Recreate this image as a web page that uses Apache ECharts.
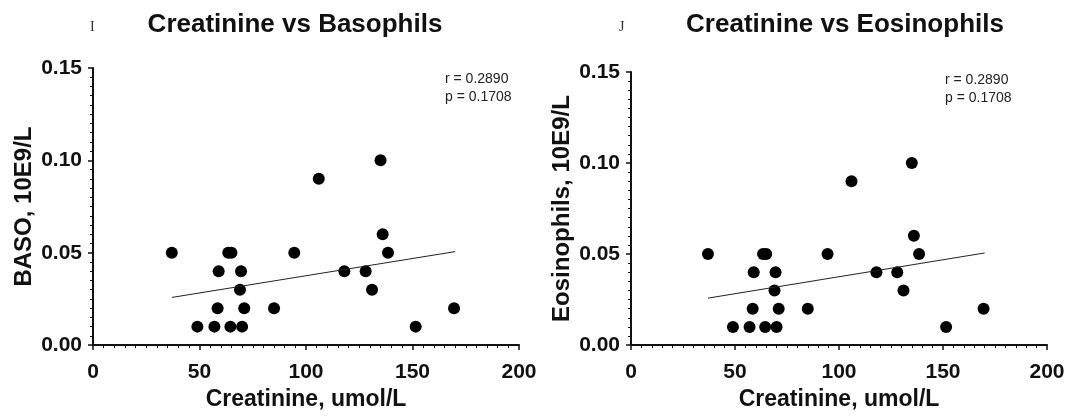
<!DOCTYPE html>
<html>
<head>
<meta charset="utf-8">
<script src="https://cdn.jsdelivr.net/npm/echarts@6/dist/echarts.min.js"></script>
<style>
  html, body { margin: 0; padding: 0; background: #fff; }
  #chart { width: 1072px; height: 416px; }
</style>
</head>
<body>
<div id="chart"></div>
<script>
// creatinine (umol/L) for each subject
const creatinine = [37, 49, 57, 64.5, 70, 58.5, 71, 59, 69.5, 69, 63.5, 65, 85, 94.5, 106, 118, 128, 131, 135, 136, 138.5, 151.5, 169.5];
// basophils and eosinophils (10E9/L) - same values in both panels
const baso = [0.05, 0.01, 0.01, 0.01, 0.01, 0.02, 0.02, 0.04, 0.04, 0.03, 0.05, 0.05, 0.02, 0.05, 0.09, 0.04, 0.04, 0.03, 0.10, 0.06, 0.05, 0.01, 0.02];
const eos = [0.05, 0.01, 0.01, 0.01, 0.01, 0.02, 0.02, 0.04, 0.04, 0.03, 0.05, 0.05, 0.02, 0.05, 0.09, 0.04, 0.04, 0.03, 0.10, 0.06, 0.05, 0.01, 0.02];
// regression line ends
const fitX = [37, 170];
const fitY = [0.0258, 0.0506];
const xTicks = [0, 50, 100, 150, 200];
const yTicks = [0, 0.05, 0.10, 0.15];
const stats = ['r = 0.2890', 'p = 0.1708'];

const chart = echarts.init(document.getElementById('chart'));

const pts = (xs, ys) => xs.map((x, i) => [x, ys[i]]);

// axis config shared by both panels
function xAxisOpt (idx) {
  return {
    type: 'value', gridIndex: idx,
    min: xTicks[0], max: xTicks[xTicks.length - 1], interval: 50,
    name: 'Creatinine, umol/L', nameLocation: 'middle', nameGap: 42,
    nameTextStyle: { fontFamily: 'Liberation Sans', fontWeight: 'bold', fontSize: 23, color: '#111' },
    axisLine: { show: true, onZero: false, lineStyle: { color: '#111', width: 2 } },
    axisTick: { show: true, length: 5, lineStyle: { color: '#111', width: 1.5 } },
    minorTick: { show: true, splitNumber: 10, length: 3, lineStyle: { color: '#111', width: 1 } },
    axisLabel: { fontFamily: 'Liberation Sans', fontWeight: 'bold', fontSize: 21, color: '#111', margin: 17 },
    splitLine: { show: false }
  }
}

function yAxisOpt (idx, name) {
  return {
    type: 'value', gridIndex: idx,
    min: yTicks[0], max: yTicks[yTicks.length - 1], interval: 0.05,
    name: name, nameLocation: 'middle', nameGap: 57, nameRotate: 90,
    nameTextStyle: { fontFamily: 'Liberation Sans', fontWeight: 'bold', fontSize: 24, color: '#111' },
    axisLine: { show: true, onZero: false, lineStyle: { color: '#111', width: 2 } },
    axisTick: { show: true, length: 5, lineStyle: { color: '#111', width: 1.5 } },
    minorTick: { show: true, splitNumber: 10, length: 3, lineStyle: { color: '#111', width: 1 } },
    axisLabel: {
      fontFamily: 'Liberation Sans', fontWeight: 'bold', fontSize: 21, color: '#111', margin: 11,
      formatter: v => v.toFixed(2)
    },
    splitLine: { show: false }
  }
}

const dotStyle = { color: '#000', opacity: 1 };
const fitStyle = { color: '#222', width: 1 };

const option = {
  backgroundColor: '#fff',
  animation: false,
  title: [
    { text: 'Creatinine vs Basophils', left: 290, top: 7, textAlign: 'center',
      textStyle: { fontFamily: 'Liberation Sans', fontWeight: 'bold', fontSize: 26, color: '#111' } },
    { text: 'Creatinine vs Eosinophils', left: 840, top: 7, textAlign: 'center',
      textStyle: { fontFamily: 'Liberation Sans', fontWeight: 'bold', fontSize: 26, color: '#111' } }
  ],
  graphic: [
    { type: 'text', left: 90, top: 20, style: { text: 'I', font: '14px "Liberation Serif"', fill: '#333' } },
    { type: 'text', left: 619, top: 20, style: { text: 'J', font: '14px "Liberation Serif"', fill: '#333' } },
    { type: 'text', left: 445, top: 70, style: { text: stats.join('\n'), font: '14px "Liberation Sans"', lineHeight: 18, fill: '#222' } },
    { type: 'text', left: 945, top: 71, style: { text: stats.join('\n'), font: '14px "Liberation Sans"', lineHeight: 18, fill: '#222' } }
  ],
  grid: [
    { left: 93, right: 553, top: 68, bottom: 63 },
    { left: 631, right: 25, top: 72, bottom: 62 }
  ],
  xAxis: [xAxisOpt(0), xAxisOpt(1)],
  yAxis: [yAxisOpt(0, 'BASO, 10E9/L'), yAxisOpt(1, 'Eosinophils, 10E9/L')],
  series: [
    { type: 'scatter', xAxisIndex: 0, yAxisIndex: 0, symbolSize: 12, itemStyle: dotStyle, data: pts(creatinine, baso) },
    { type: 'line', xAxisIndex: 0, yAxisIndex: 0, symbol: 'none', lineStyle: fitStyle, data: pts(fitX, fitY) },
    { type: 'scatter', xAxisIndex: 1, yAxisIndex: 1, symbolSize: 12, itemStyle: dotStyle, data: pts(creatinine, eos) },
    { type: 'line', xAxisIndex: 1, yAxisIndex: 1, symbol: 'none', lineStyle: fitStyle, data: pts(fitX, fitY) }
  ]
};

chart.setOption(option);
</script>
</body>
</html>
